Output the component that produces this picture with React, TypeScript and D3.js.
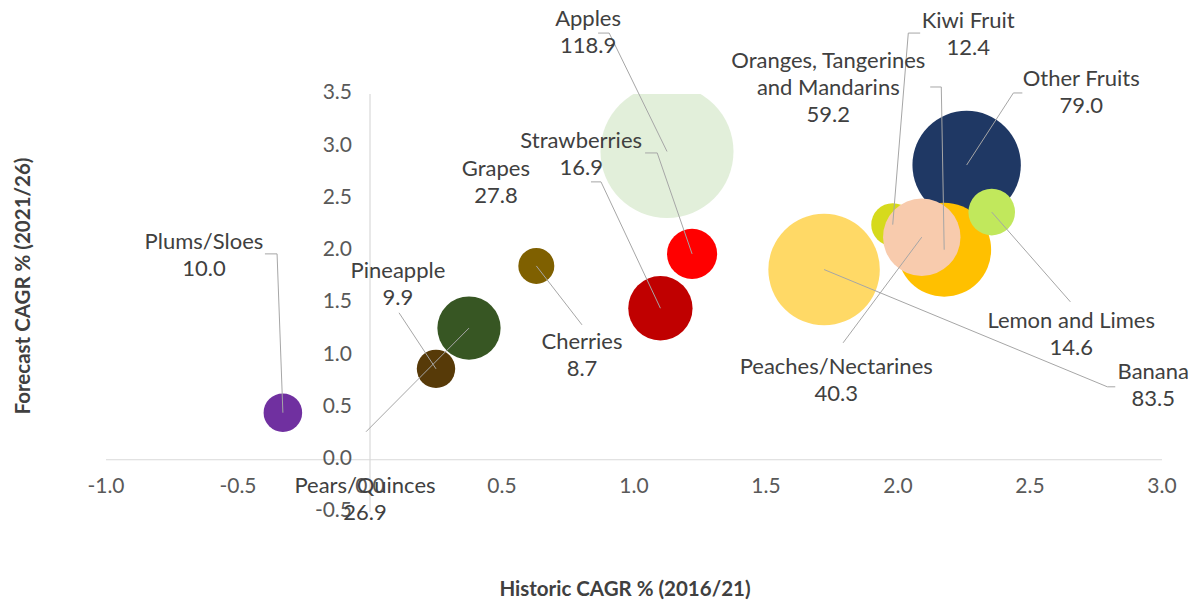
import React from "react";
import * as d3 from "d3";

// bubble data
const fruits = [
  "Plums/Sloes",
  "Pineapple",
  "Pears/Quinces",
  "Cherries",
  "Grapes",
  "Strawberries",
  "Apples",
  "Banana",
  "Other Fruits",
  "Oranges, Tangerines and Mandarins",
  "Kiwi Fruit",
  "Peaches/Nectarines",
  "Lemon and Limes",
];
const historicCagr = [-0.33, 0.25, 0.375, 0.63, 1.1, 1.22, 1.125, 1.72, 2.26, 2.175, 1.98, 2.09, 2.355];
const forecastCagr = [0.45, 0.87, 1.26, 1.855, 1.45, 1.97, 2.95, 1.82, 2.82, 2.01, 2.25, 2.13, 2.37];
const marketSize = [10.0, 9.9, 26.9, 8.7, 27.8, 16.9, 118.9, 83.5, 79.0, 59.2, 12.4, 40.3, 14.6];
const bubbleColors = [
  "#7030A0", "#573A08", "#375623", "#7F6000", "#C00000", "#FF0000", "#E2EFDA",
  "#FFD966", "#1F3864", "#FFC000", "#D6DA1C", "#F8CBAD", "#C1E85C",
];

// label lines for each bubble
const labelLines = [
  ["Plums/Sloes"],
  ["Pineapple"],
  ["Pears/Quinces"],
  ["Cherries"],
  ["Grapes"],
  ["Strawberries"],
  ["Apples"],
  ["Banana"],
  ["Other Fruits"],
  ["Oranges, Tangerines", "and Mandarins"],
  ["Kiwi Fruit"],
  ["Peaches/Nectarines"],
  ["Lemon and Limes"],
];

// label placement and leader line points, in data units
const labelAt: [number, number][] = [
  [-0.629, 2.075], [0.106, 1.8], [-0.019, -0.258], [0.803, 1.119], [0.477, 2.773],
  [0.8, 3.041], [0.826, 4.208], [2.967, 0.832], [2.694, 3.634], [1.736, 3.806],
  [2.266, 4.189], [1.766, 0.88], [2.656, 1.32],
];
const leaderAt: [number, number][][] = [
  [[-0.398, 1.97], [-0.352, 1.97]],
  [[0.11, 1.406]],
  [[-0.015, 0.268]],
  [[0.803, 1.291]],
  [[0.837, 2.659], [0.875, 2.659]],
  [[1.042, 2.936], [1.088, 2.936]],
  [[0.864, 4.083], [0.906, 4.083]],
  [[2.823, 0.698], [2.793, 0.698]],
  [[2.471, 3.51], [2.437, 3.51]],
  [[2.122, 3.567], [2.164, 3.567]],
  [[2.084, 4.083], [2.039, 4.083]],
  [[1.792, 1.119]],
  [[2.653, 1.511]],
];

const xTicks = [-1.0, -0.5, 0.0, 0.5, 1.0, 1.5, 2.0, 2.5, 3.0];
const yTicks = [-0.5, 0.0, 0.5, 1.0, 1.5, 2.0, 2.5, 3.0, 3.5];

const W = 1198;
const H = 603;
const font = "Lato, 'Open Sans', sans-serif";

const App: React.FC = () => {
  const x = d3.scaleLinear().domain([-1, 3]).range([106, 1162]);
  const y = d3.scaleLinear().domain([-0.5, 3.5]).range([512, 94]);
  const r = d3.scaleSqrt().domain([0, 118.9]).range([0, 66.5]);
  const line = d3.line<[number, number]>().x((d) => x(d[0])).y((d) => y(d[1]));

  const points = fruits.map((name, i) => ({
    name,
    hx: historicCagr[i],
    fy: forecastCagr[i],
    size: marketSize[i],
    color: bubbleColors[i],
  }));

  return (
    <svg width={W} height={H} style={{ position: "absolute", left: 0, top: 0, background: "#fff" }}>
      <defs>
        <clipPath id="plot">
          <rect x={x(-1)} y={y(3.5)} width={x(3) - x(-1)} height={y(-0.5) - y(3.5)} />
        </clipPath>
      </defs>

      {/* axes crossing at zero */}
      <line x1={x(-1)} x2={x(3)} y1={y(0)} y2={y(0)} stroke="#D9D9D9" strokeWidth={1.2} />
      <line x1={x(0)} x2={x(0)} y1={y(3.5)} y2={y(-0.5)} stroke="#D9D9D9" strokeWidth={1.2} />

      <g clipPath="url(#plot)">
        {points.map((p) => (
          <circle key={p.name} cx={x(p.hx)} cy={y(p.fy)} r={r(p.size)} fill={p.color} />
        ))}
      </g>

      {/* tick labels */}
      {yTicks.map((t) => (
        <text
          key={"y" + t}
          x={x(0) - 18}
          y={y(t)}
          textAnchor="end"
          dominantBaseline="middle"
          fontFamily={font}
          fontSize={21}
          fill="#595959"
        >
          {t.toFixed(1)}
        </text>
      ))}
      {xTicks.map((t) => (
        <text
          key={"x" + t}
          x={x(t)}
          y={y(0) + 28}
          textAnchor="middle"
          dominantBaseline="middle"
          fontFamily={font}
          fontSize={21}
          fill="#595959"
        >
          {t.toFixed(1)}
        </text>
      ))}

      {/* leader lines */}
      {points.map((p, i) => (
        <path
          key={"l" + p.name}
          d={line([...leaderAt[i], [p.hx, p.fy]]) || ""}
          fill="none"
          stroke="#A6A6A6"
          strokeWidth={1}
        />
      ))}

      {/* data labels */}
      {points.map((p, i) => {
        const lines = [...labelLines[i], p.size.toFixed(1)];
        return (
          <text
            key={"t" + p.name}
            x={x(labelAt[i][0])}
            y={y(labelAt[i][1])}
            textAnchor="middle"
            dominantBaseline="middle"
            fontFamily={font}
            fontSize={22}
            fill="#404040"
          >
            {lines.map((s, j) => (
              <tspan key={j} x={x(labelAt[i][0])} dy={j === 0 ? 0 : 27}>
                {s}
              </tspan>
            ))}
          </text>
        );
      })}

      {/* axis titles */}
      <text
        x={625}
        y={591}
        textAnchor="middle"
        dominantBaseline="middle"
        fontFamily={font}
        fontWeight="bold"
        fontSize={20.5}
        fill="#404040"
      >
        Historic CAGR % (2016/21)
      </text>
      <text
        transform="translate(25,286) rotate(-90)"
        textAnchor="middle"
        dominantBaseline="middle"
        fontFamily={font}
        fontWeight="bold"
        fontSize={20.5}
        fill="#404040"
      >
        Forecast CAGR % (2021/26)
      </text>
    </svg>
  );
};

export default App;
